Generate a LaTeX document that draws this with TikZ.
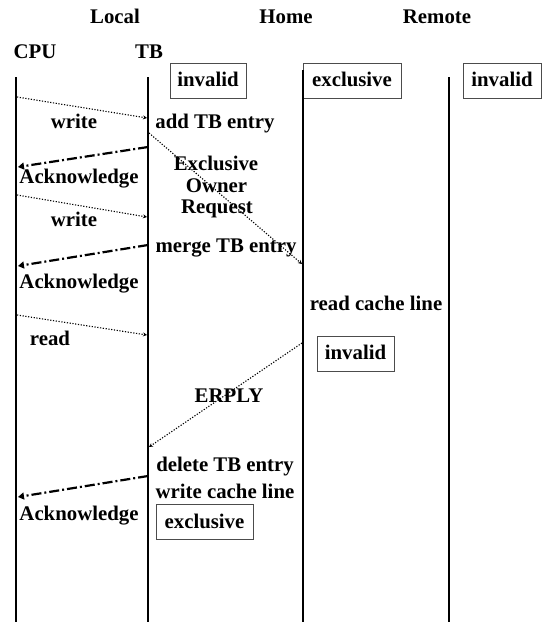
\documentclass[tikz,border=0pt]{standalone}
\usepackage{fontspec}
\setmainfont{Liberation Serif}
\usetikzlibrary{arrows.meta}
\begin{document}
\begin{tikzpicture}[x=1pt,y=-1pt,
  every node/.style={font=\fontsize{20.8}{24}\bfseries\selectfont, inner sep=0pt},
  lbl/.style={anchor=base},
  statebox/.style={draw=black!70, line width=0.9pt, fill=white, minimum width=#1, minimum height=35pt, anchor=center},
  lifeline/.style={line width=2.4pt},
  msg/.style={line width=1.1pt, dash pattern=on 1.2pt off 1.6pt, -{Stealth[length=4pt,width=4pt]}},
  ack/.style={line width=2.2pt, dash pattern=on 10pt off 3pt on 2pt off 3pt, -{Triangle[length=6pt,width=7pt]}}]
\useasboundingbox (0,0) rectangle (550,622);
% headings
\node[lbl] (local) at (115,23) {Local};
\node[lbl] (home) at (286,23) {Home};
\node[lbl] (remote) at (437,23) {Remote};
\node[lbl] (cpu) at (35,58) {CPU};
\node[lbl] (tb) at (149,58) {TB};
% lifelines
\coordinate (cpuT) at (16,77);
\coordinate (cpuB) at (16,622);
\coordinate (tbT) at (148,77);
\coordinate (tbB) at (148,622);
\coordinate (homeT) at (303,70);
\coordinate (homeB) at (303,622);
\coordinate (remT) at (449,77);
\coordinate (remB) at (449,622);
\draw[lifeline] (cpuT) -- (cpuB);
\draw[lifeline] (tbT) -- (tbB);
\draw[lifeline] (remT) -- (remB);
% state boxes
\node[statebox=76pt] (s1) at (208,80.5) {};
\node[lbl] (s1t) at (208,86) {invalid};
\node[statebox=98pt] (s2) at (352,80.5) {};
\node[lbl] (s2t) at (352,86) {exclusive};
\node[statebox=78pt] (s3) at (502,80.5) {};
\node[lbl] (s3t) at (502,86) {invalid};
\draw[lifeline] (homeT) -- (homeB);
% message endpoints
\coordinate (w1a) at (17,97);   \coordinate (w1b) at (147,118);
\coordinate (a1a) at (148,147); \coordinate (a1b) at (18,167);
\coordinate (eoa) at (149,133); \coordinate (eob) at (302,264);
\coordinate (w2a) at (17,195);  \coordinate (w2b) at (147,217);
\coordinate (a2a) at (148,245); \coordinate (a2b) at (18,266);
\coordinate (r1a) at (17,315);  \coordinate (r1b) at (147,335);
\coordinate (era) at (302,343); \coordinate (erb) at (149,447);
\coordinate (a3a) at (148,476); \coordinate (a3b) at (18,497);
% labels
\node[lbl] (lw1) at (74,128) {write};
\node[lbl] (ladd) at (215,128) {add TB entry};
\node[lbl] (lex) at (216,170) {Exclusive};
\node[lbl] (low) at (216.5,192) {Owner};
\node[lbl] (lreq) at (217,213) {Request};
\node[lbl] (lack1) at (79,183) {Acknowledge};
\node[lbl] (lw2) at (74,226) {write};
\node[lbl] (lmerge) at (226,252) {merge TB entry};
\node[lbl] (lack2) at (79,288) {Acknowledge};
\node[lbl] (lread) at (50,345) {read};
\node[lbl] (lrcl) at (376,310) {read cache line};
\node[statebox=77pt] (s4) at (355.5,353.5) {};
\node[lbl] (s4t) at (355.5,359) {invalid};
\node[lbl] (lerply) at (229,402) {ERPLY};
\node[lbl] (ldel) at (225,471) {delete TB entry};
\node[lbl] (lwcl) at (225,498) {write cache line};
\node[lbl] (lack3) at (79,520) {Acknowledge};
\node[statebox=97pt] (s5) at (204.5,521.5) {};
\node[lbl] (s5t) at (204.5,528) {exclusive};
% messages
\draw[msg] (w1a) -- (w1b);
\draw[ack] (a1a) -- (a1b);
\draw[msg] (eoa) -- (eob);
\draw[msg] (w2a) -- (w2b);
\draw[ack] (a2a) -- (a2b);
\draw[msg] (r1a) -- (r1b);
\draw[msg] (era) -- (erb);
\draw[ack] (a3a) -- (a3b);
\end{tikzpicture}
\end{document}
